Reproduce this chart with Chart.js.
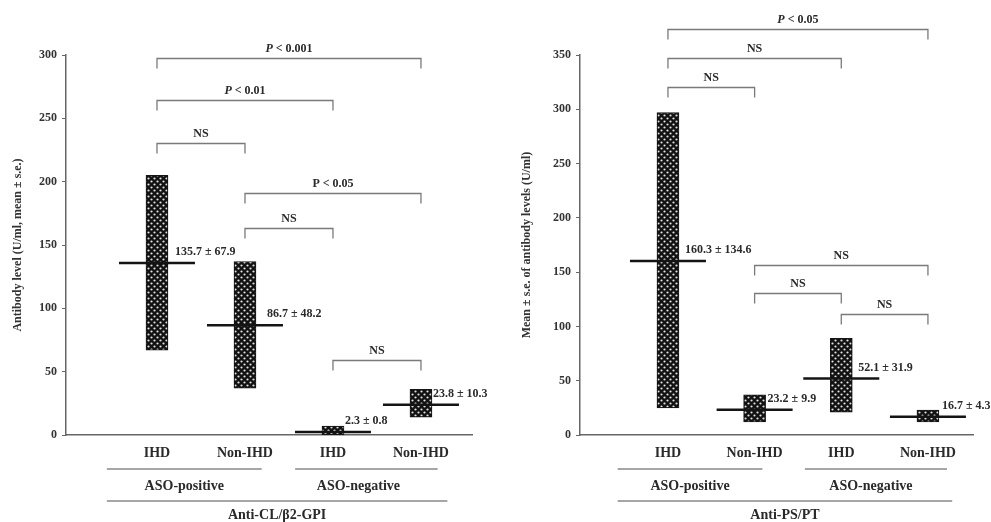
<!DOCTYPE html>
<html><head><meta charset="utf-8">
<script src="https://cdn.jsdelivr.net/npm/chart.js@4.4.1/dist/chart.umd.min.js"></script>
<style>
html,body{margin:0;padding:0;background:#fff;}
#wrap{position:relative;width:991px;height:522px;overflow:hidden;}
.c{position:absolute;top:0;height:522px;}
</style></head><body>
<div id="wrap">
<div class="c" style="left:0;width:495px"><canvas id="cl"></canvas></div>
<div class="c" style="left:495px;width:496px"><canvas id="ps"></canvas></div>
</div>
<script>
// ---- data ----
const categories = ['IHD', 'Non-IHD', 'IHD', 'Non-IHD'];
const groupLabels = ['ASO-positive', 'ASO-negative'];
const clTitle = 'Anti-CL/\u03B22-GPI';
const psTitle = 'Anti-PS/PT';
const clAxisTitle = 'Antibody level (U/ml, mean \u00B1 s.e.)';
const psAxisTitle = 'Mean \u00B1 s.e. of antibody levels (U/ml)';

const clMean = [135.7, 86.7, 2.3, 23.8];
const clSE   = [67.9, 48.2, 0.8, 10.3];
const clLow  = [67, 37, 0.3, 14];
const clHigh = [205, 137, 7, 36];

const psMean = [160.3, 23.2, 52.1, 16.7];
const psSE   = [134.6, 9.9, 31.9, 4.3];
const psLow  = [25, 12, 21, 12];
const psHigh = [297, 37, 89, 23];

const clTicks = [0, 50, 100, 150, 200, 250, 300];
const psTicks = [0, 50, 100, 150, 200, 250, 300, 350];

// comparisons: [from index, to index, label]
const clComparisons = [[0, 3, 'P < 0.001'], [0, 2, 'P < 0.01'], [0, 1, 'NS'], [1, 3, 'P < 0.05'], [1, 2, 'NS'], [2, 3, 'NS']];
const clItalicP = [true, true, false, false, false, false];
const psComparisons = [[0, 3, 'P < 0.05'], [0, 2, 'NS'], [0, 1, 'NS'], [1, 3, 'NS'], [1, 2, 'NS'], [2, 3, 'NS']];
const psItalicP = [true, false, false, false, false, false];

// ---- layout / style ----
const FONT = '"Liberation Serif", "Times New Roman", serif';
const clBracketY = [298, 264.5, 230.5, 191, 163.4, 59.2];
const psBracketY = [374, 347.2, 320.5, 156.6, 130.8, 111.4];

function makePattern() {
  const c = document.createElement('canvas');
  c.width = 6; c.height = 6;
  const g = c.getContext('2d');
  g.fillStyle = '#121212';
  g.fillRect(0, 0, 6, 6);
  g.fillStyle = '#e2e2e2';
  [[1.5, 1.5], [4.5, 4.5]].forEach(p => {
    g.beginPath(); g.arc(p[0], p[1], 1.1, 0, Math.PI * 2); g.fill();
  });
  return g.createPattern(c, 'repeat');
}

function drawP(ctx, text, cx, y, italic) {
  ctx.textBaseline = 'middle';
  if (italic && text.startsWith('P')) {
    const rest = text.slice(1);
    ctx.font = 'italic bold 12px ' + FONT;
    const w1 = ctx.measureText('P').width;
    ctx.font = 'bold 12px ' + FONT;
    const w2 = ctx.measureText(rest).width;
    let x = cx - (w1 + w2) / 2;
    ctx.textAlign = 'left';
    ctx.font = 'italic bold 12px ' + FONT;
    ctx.fillText('P', x, y);
    ctx.font = 'bold 12px ' + FONT;
    ctx.fillText(rest, x + w1, y);
  } else {
    ctx.font = 'bold 12px ' + FONT;
    ctx.textAlign = 'center';
    ctx.fillText(text, cx, y);
  }
}

const annotPlugin = {
  id: 'annot',
  afterDraw(chart, args, o) {
    const ctx = chart.ctx, xs = chart.scales.x, ys = chart.scales.y;
    ctx.save();
    // brackets
    o.comparisons.forEach((c, i) => {
      const x1 = xs.getPixelForValue(c[0]), x2 = xs.getPixelForValue(c[1]);
      const y = Math.round(ys.getPixelForValue(o.bracketY[i])) + 0.5;
      ctx.strokeStyle = '#7a7a7a'; ctx.lineWidth = 1.3;
      ctx.beginPath();
      ctx.moveTo(x1, y + 10); ctx.lineTo(x1, y); ctx.lineTo(x2, y); ctx.lineTo(x2, y + 10);
      ctx.stroke();
      ctx.fillStyle = '#2a2a2a';
      drawP(ctx, c[2], (x1 + x2) / 2, y - 10, o.italic[i]);
    });
    // value labels
    ctx.font = 'bold 12px ' + FONT;
    ctx.textAlign = 'left'; ctx.textBaseline = 'middle'; ctx.fillStyle = '#2a2a2a';
    o.means.forEach((m, i) => {
      const x = xs.getPixelForValue(i) + o.valueDx[i];
      const y = ys.getPixelForValue(m) - 11;
      ctx.fillText(m.toFixed(1) + ' \u00B1 ' + o.se[i].toFixed(1), x, y);
    });
    // bottom category labels
    ctx.font = 'bold 14px ' + FONT;
    ctx.textAlign = 'center';
    categories.forEach((c, i) => ctx.fillText(c, xs.getPixelForValue(i), 453));
    ctx.strokeStyle = '#888'; ctx.lineWidth = 1.5;
    o.groupSpans.forEach((s, i) => {
      const a = xs.getPixelForValue(s[0]), b = xs.getPixelForValue(s[1]);
      ctx.beginPath(); ctx.moveTo(a, 469); ctx.lineTo(b, 469); ctx.stroke();
      ctx.fillText(groupLabels[i], (a + b) / 2 + o.groupDx[i], 486);
    });
    const a = xs.getPixelForValue(o.totalSpan[0]), b = xs.getPixelForValue(o.totalSpan[1]);
    ctx.beginPath(); ctx.moveTo(a, 501); ctx.lineTo(b, 501); ctx.stroke();
    ctx.fillText(o.title, (a + b) / 2, 515);
    ctx.restore();
  }
};

function build(id, opt) {
  const pattern = makePattern();
  const bars = opt.low.map((l, i) => ({ x: i, y: [l, opt.high[i]] }));
  const means = opt.mean.map((m, i) => ({ x: i, y: m }));
  return new Chart(document.getElementById(id), {
    type: 'bar',
    data: {
      datasets: [
        {
          type: 'scatter', data: means, pointStyle: 'line', pointRadius: 38, pointHoverRadius: 38,
          borderColor: '#141414', borderWidth: 2.5, backgroundColor: '#141414', clip: false
        },
        {
          type: 'bar', data: bars, backgroundColor: pattern, borderColor: '#151515', borderWidth: 1,
          borderSkipped: false, barThickness: 22, clip: false
        }
      ]
    },
    options: {
      responsive: true, maintainAspectRatio: false, animation: false,
      layout: { autoPadding: false, padding: { top: 55, bottom: 87, left: 0, right: opt.padRight } },
      plugins: {
        legend: { display: false }, tooltip: { enabled: false },
        annot: {
          comparisons: opt.comparisons, bracketY: opt.bracketY, italic: opt.italic,
          means: opt.mean, se: opt.se, valueDx: opt.valueDx,
          groupSpans: opt.groupSpans, groupDx: opt.groupDx, totalSpan: opt.totalSpan, title: opt.title
        }
      },
      scales: {
        x: {
          type: 'linear', min: opt.xmin, max: opt.xmax, offset: false,
          ticks: { display: false }, grid: { display: false, drawTicks: false },
          border: { display: true, color: '#666', width: 1.5 },
          afterFit: s => { s.height = 0; }
        },
        y: {
          min: 0, max: opt.ymax,
          afterBuildTicks: s => { s.ticks = opt.ticks.map(v => ({ value: v })); },
          border: { display: true, color: '#666', width: 1.5 },
          grid: { drawOnChartArea: false, tickLength: 4, color: '#666', lineWidth: 1 },
          ticks: { font: { family: FONT, size: 12, weight: 'bold' }, color: '#333', padding: 5 },
          title: {
            display: true, text: opt.axisTitle, color: '#333',
            font: { family: FONT, size: 12, weight: 'bold' },
            padding: { top: opt.titlePad, bottom: 0 }
          },
          afterFit: s => { s.width = opt.axisX; }
        }
      }
    },
    plugins: [annotPlugin]
  });
}

build('cl', {
  low: clLow, high: clHigh, mean: clMean, se: clSE, ticks: clTicks, ymax: 300,
  comparisons: clComparisons, bracketY: clBracketY, italic: clItalicP,
  valueDx: [18, 22, 12, 12],
  groupSpans: [[-0.57, 1.19], [1.57, 3.19]], groupDx: [0, -8], totalSpan: [-0.57, 3.3],
  title: clTitle, axisTitle: clAxisTitle, titlePad: 11, axisX: 66, padRight: 23,
  xmin: -1.034, xmax: 3.58
});
build('ps', {
  low: psLow, high: psHigh, mean: psMean, se: psSE, ticks: psTicks, ymax: 350,
  comparisons: psComparisons, bracketY: psBracketY, italic: psItalicP,
  valueDx: [17, 13, 17, 14],
  groupSpans: [[-0.58, 1.09], [1.58, 3.22]], groupDx: [0, -5], totalSpan: [-0.58, 3.28],
  title: psTitle, axisTitle: psAxisTitle, titlePad: 25, axisX: 85, padRight: 18,
  xmin: -1.015, xmax: 3.52
});
</script>
</body></html>
